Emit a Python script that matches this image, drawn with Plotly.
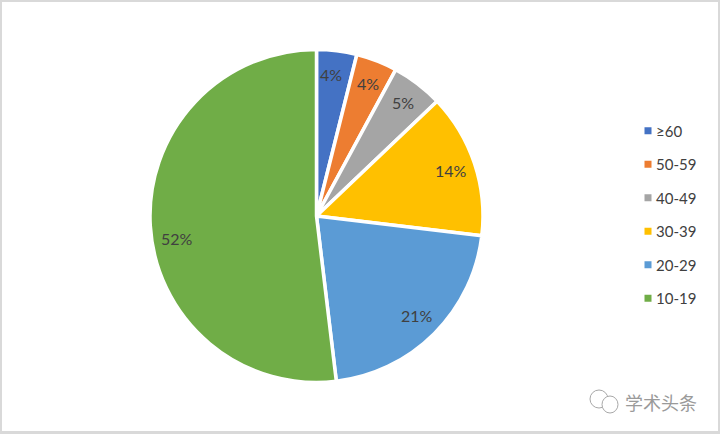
import math
import plotly.graph_objects as go

categories = ["≥60", "50-59", "40-49", "30-39", "20-29", "10-19"]
values = [3.9, 4.0, 5.0, 14.0, 21.2, 51.9]
colors = ["#4472C4", "#ED7D31", "#A5A5A5", "#FFC000", "#5B9BD5", "#70AD47"]
label_nudge_deg = [-1, 0, 0, 0, 0, -6]
FONT = "Lato, 'Noto Sans', sans-serif"
W, H = 720, 434
CX, CY, R = 316.5, 216, 166.5

def px(x): return x / W
def py(y): return 1 - y / H

fig = go.Figure()
fig.add_trace(go.Pie(
    labels=categories, values=values, sort=False, direction="clockwise", rotation=0,
    marker=dict(colors=colors, line=dict(color="white", width=3.5)),
    textinfo="none",
    domain=dict(x=[px(CX - R), px(CX + R)], y=[py(CY + R), py(CY - R)]),
    showlegend=False, hoverinfo="label+percent",
))
for c, col in zip(categories, colors):
    fig.add_trace(go.Scatter(
        x=[None], y=[None], mode="markers", name=c, legendgroup=c,
        marker=dict(symbol="square", size=7, color=col),
    ))

total = sum(values)
annotations = []
cum = 0
for v, nudge in zip(values, label_nudge_deg):
    ang = math.radians((cum + v / 2) / total * 360 + nudge)
    cum += v
    rad = 0.85 * R
    annotations.append(dict(
        text=f"{v / total:.0%}", x=px(CX + rad * math.sin(ang)), y=py(CY - rad * math.cos(ang) - 1),
        xref="paper", yref="paper", showarrow=False, xanchor="center", yanchor="middle",
        font=dict(family=FONT, size=16, color="#404040"),
    ))
annotations.append(dict(text="学术头条", x=px(661), y=py(402), xref="paper", yref="paper",
                        showarrow=False, xanchor="center", yanchor="middle",
                        font=dict(family="'Noto Sans CJK SC'", size=18, color="#9a9a9a")))

shapes = [dict(type="rect", xref="paper", yref="paper", x0=px(2), x1=px(718), y0=py(431), y1=py(2),
               fillcolor="white", line=dict(width=0), layer="below")]
bubble = dict(type="circle", xref="paper", yref="paper", line=dict(color="#a8a8a8", width=1), fillcolor="rgba(0,0,0,0)")
shapes.append(dict(bubble, x0=px(590), x1=px(608), y0=py(408), y1=py(390)))
shapes.append(dict(bubble, x0=px(602), x1=px(618), y0=py(413), y1=py(396), fillcolor="white"))

fig.update_layout(
    width=W, height=H, margin=dict(l=0, r=0, t=0, b=0),
    paper_bgcolor="#d9d9d9", plot_bgcolor="rgba(0,0,0,0)",
    xaxis=dict(visible=False), yaxis=dict(visible=False),
    font=dict(family=FONT, color="#404040"),
    legend=dict(x=px(616), y=py(114.5), xanchor="left", yanchor="top",
                font=dict(family=FONT, size=15, color="#404040"),
                bgcolor="rgba(0,0,0,0)", tracegroupgap=11, itemwidth=30,
                traceorder="grouped"),
    shapes=shapes,
    annotations=annotations,
)
post = """
document.body.style.margin='0';
document.querySelectorAll('.legend .legendsymbols').forEach(function(el){
  el.setAttribute('transform','translate(12,0)');
});
"""
fig.write_html("out.html", post_script=post, config=dict(displayModeBar=False))
